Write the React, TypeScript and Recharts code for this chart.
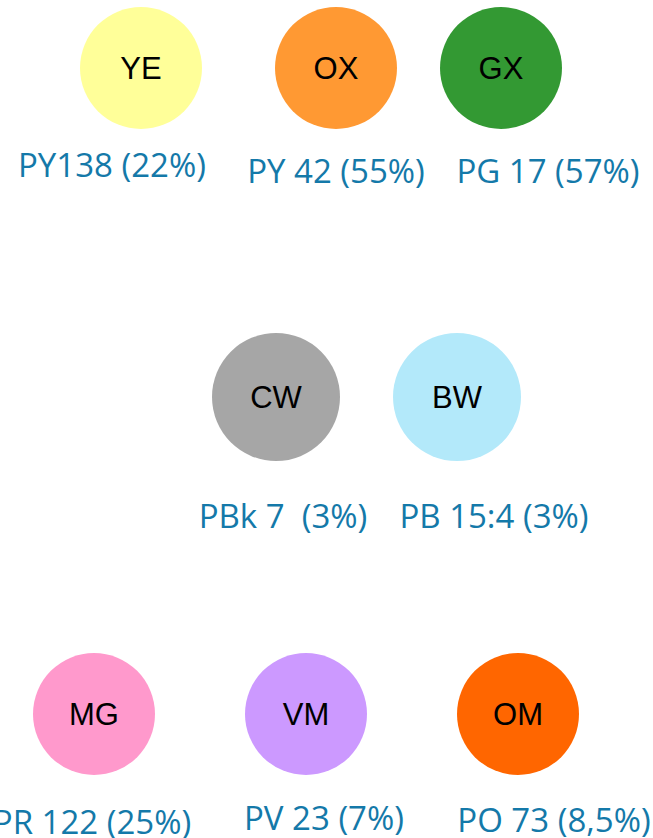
import { Scatter, ScatterChart, XAxis, YAxis } from "recharts";

// pigment swatches: code inside the circle, pigment + share underneath
const codes = ["YE", "OX", "GX", "CW", "BW", "MG", "VM", "OM"];
const pigments = [
  "PY138 (22%)",
  "PY 42 (55%)",
  "PG 17 (57%)",
  "PBk 7  (3%)",
  "PB 15:4 (3%)",
  "PR 122 (25%)",
  "PV 23 (7%)",
  "PO 73 (8,5%)",
];
const swatchColors = ["#FFFF99", "#FF9933", "#339933", "#A6A6A6", "#B3E9FA", "#FF99CC", "#CC99FF", "#FF6600"];
const rows = [0, 0, 0, 1, 1, 2, 2, 2];

// positions on the diagram grid
const circleX = [141, 336, 501, 276, 457, 94, 306, 518];
const circleY = [68, 68, 68, 397, 397, 714, 714, 714];
const labelX = [112, 336, 548, 283, 494, 92, 324, 554];
const labelY = [177, 183, 183, 528, 528, 834, 830, 832];

const W = 653;
const H = 838;
const LABEL_COLOR = "#1479A9";

const circles = codes.map((code, i) => ({
  x: circleX[i],
  y: circleY[i],
  code,
  color: swatchColors[i],
  row: rows[i],
}));

const labels = pigments.map((text, i) => ({ x: labelX[i], y: labelY[i], text }));

function Swatch(props: any) {
  const { cx, cy, payload } = props;
  const r = payload.row === 1 ? 64 : 61;
  return (
    <g>
      <circle cx={cx} cy={cy} r={r} fill={payload.color} />
      <text
        x={cx}
        y={cy + 11}
        textAnchor="middle"
        fontFamily="'Liberation Sans', Arial, sans-serif"
        fontSize={31}
        fill="#000"
      >
        {payload.code}
      </text>
    </g>
  );
}

function PigmentLabel(props: any) {
  const { cx, cy, payload } = props;
  return (
    <text
      x={cx}
      y={cy}
      textAnchor="middle"
      fontFamily="'Open Sans', sans-serif"
      fontSize={33}
      fill={LABEL_COLOR}
      style={{ whiteSpace: "pre" }}
    >
      {payload.text}
    </text>
  );
}

export default function App() {
  return (
    <div style={{ position: "fixed", left: 0, top: 0, width: W, height: H, background: "#fff" }}>
      <ScatterChart width={W} height={H} margin={{ top: 0, right: 0, bottom: 0, left: 0 }}>
        <XAxis type="number" dataKey="x" domain={[0, W]} hide />
        <YAxis type="number" dataKey="y" domain={[0, H]} reversed hide />
        <Scatter data={circles} shape={<Swatch />} isAnimationActive={false} />
        <Scatter data={labels} shape={<PigmentLabel />} isAnimationActive={false} />
      </ScatterChart>
    </div>
  );
}
